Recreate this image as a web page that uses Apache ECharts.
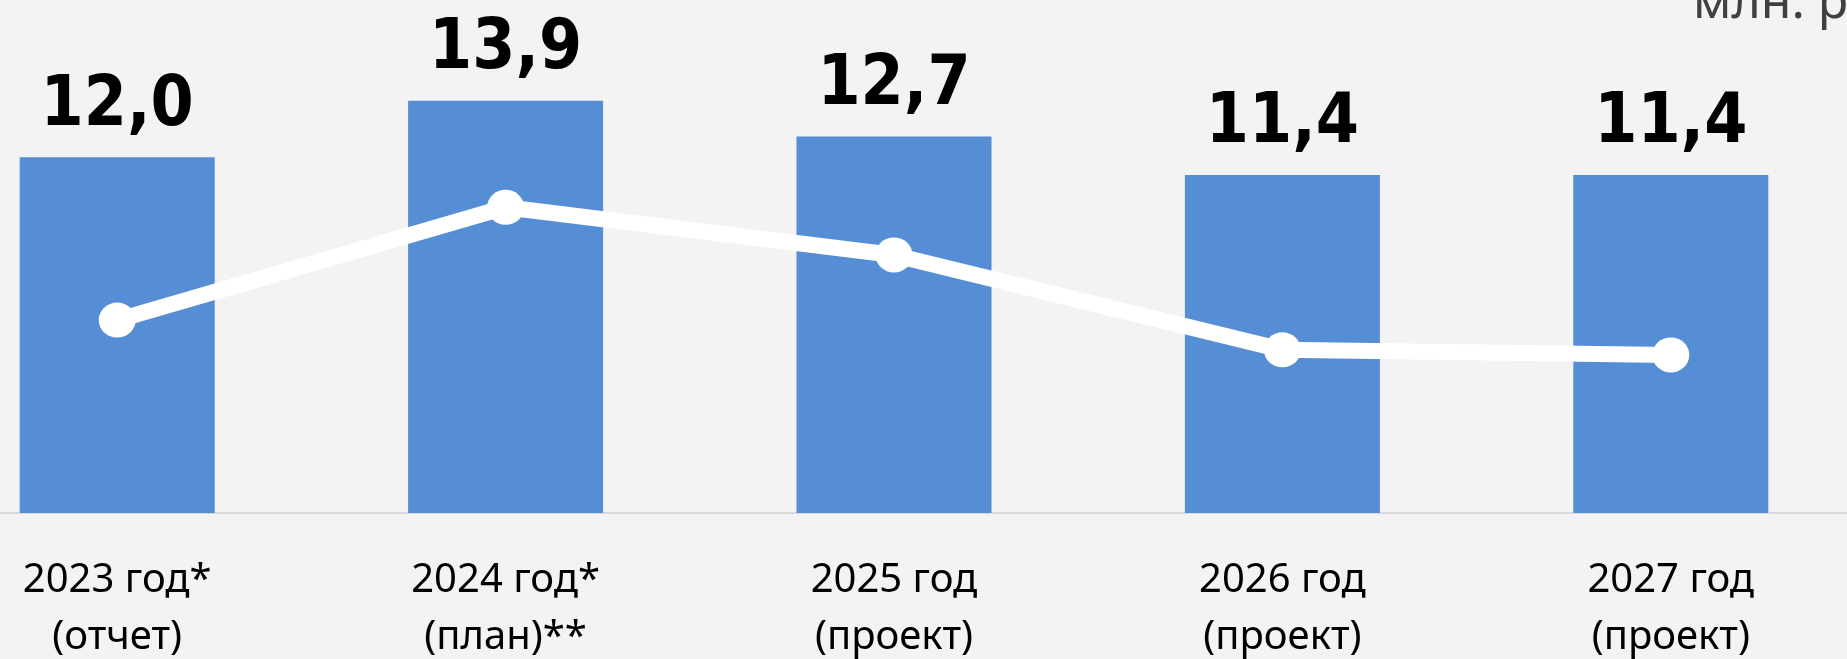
<!DOCTYPE html>
<html>
<head>
<meta charset="utf-8">
<script src="https://cdn.jsdelivr.net/npm/echarts@6/dist/echarts.min.js"></script>
<style>
  html, body { margin: 0; padding: 0; width: 1847px; height: 659px; background: #f2f3f2; overflow: hidden; }
  /* plot area runs slightly past both edges of the page */
  #chart { position: absolute; top: 0; left: -77px; width: 1942px; height: 659px; }
</style>
</head>
<body>
<div id="chart"></div>
<script>
// Периоды по оси X
const categories = ['2023 год*\n(отчет)', '2024 год*\n(план)**', '2025 год\n(проект)', '2026 год\n(проект)', '2027 год\n(проект)'];
// Объём, млн. руб.
const barValues = [12.0, 13.9, 12.7, 11.4, 11.4];
// Динамика (вспомогательная шкала, без подписей)
const lineValues = [37.6, 59.6, 50.3, 31.8, 30.8];
const unitText = 'млн. руб.';

const chart = echarts.init(document.getElementById('chart'), null, { renderer: 'canvas', width: 1942, height: 659 });

chart.setOption({
  backgroundColor: '#f2f3f2',
  animation: false,
  grid: { left: 0, right: 0, top: 0, bottom: 146, containLabel: false, outerBoundsMode: 'none' },
  xAxis: {
    type: 'category',
    data: categories,
    axisLine: { show: true, lineStyle: { color: '#d9d9d9', width: 2 } },
    axisTick: { show: false },
    axisLabel: {
      color: '#000000',
      fontFamily: '"Noto Sans", "Open Sans", sans-serif',
      fontSize: 40,
      lineHeight: 57,
      margin: 39,
      interval: 0
    }
  },
  yAxis: [
    { type: 'value', min: 0, max: 17.3, show: false },
    { type: 'value', min: 0, max: 100, show: false }
  ],
  series: [
    {
      type: 'bar',
      data: barValues,
      barWidth: 195,
      itemStyle: { color: '#558ed5' },
      label: {
        show: true,
        position: 'top',
        distance: 16,
        color: '#000000',
        fontFamily: '"DejaVu Sans Condensed", "DejaVu Sans", sans-serif',
        fontWeight: 'bold',
        fontSize: 69,
        formatter: p => p.value.toFixed(1).replace('.', ',')
      }
    },
    {
      type: 'line',
      yAxisIndex: 1,
      data: lineValues,
      lineStyle: { color: '#ffffff', width: 16 },
      itemStyle: { color: '#ffffff' },
      symbol: 'circle',
      symbolSize: [37, 35],
      z: 5
    }
  ],
  graphic: [
    {
      type: 'text',
      left: 1770,
      top: -21,
      style: {
        text: unitText,
        fill: '#404040',
        font: '50px "Noto Sans", "Open Sans", sans-serif'
      }
    }
  ]
});
</script>
</body>
</html>
